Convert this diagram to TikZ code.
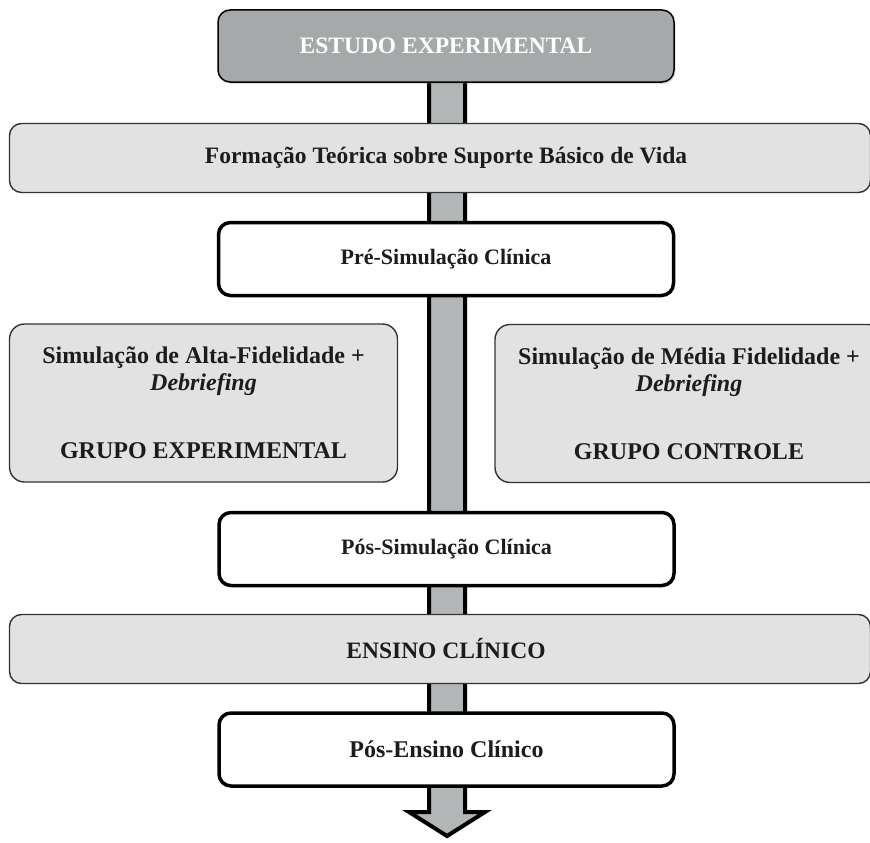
\documentclass[tikz,border=0pt]{standalone}
\usepackage{fontspec}
\setmainfont{Liberation Serif}
\usetikzlibrary{shadows}
\definecolor{titlegray}{HTML}{A6A9A9}
\definecolor{arrowgray}{HTML}{B3B6B6}
\definecolor{bandgray}{HTML}{E2E2E2}
\definecolor{edgegray}{HTML}{333333}
\definecolor{ink}{HTML}{1C1C1C}
\begin{document}
\begin{tikzpicture}[x=1pt,y=-1pt,
  titlebox/.style={draw=black, line width=1.5pt, fill=titlegray, rounded corners=12pt,
    minimum width=456pt, minimum height=72pt, inner sep=0pt, text=white,
    font=\bfseries\fontsize{23.5}{28}\selectfont,
    drop shadow={opacity=0.25, shadow xshift=1.5pt, shadow yshift=-2pt}},
  bandbox/.style={draw=edgegray, line width=1.4pt, fill=bandgray, rounded corners=12pt,
    minimum height=69pt, inner sep=0pt, text=ink,
    font=\bfseries\fontsize{23.5}{28}\selectfont},
  whitebox/.style={draw=black, line width=3.5pt, fill=white, rounded corners=12pt,
    minimum width=455pt, minimum height=73pt, inner sep=0pt, text=ink,
    font=\bfseries\fontsize{22}{26}\selectfont},
  sidebox/.style={draw=edgegray, line width=1.4pt, fill=bandgray, rounded corners=15pt,
    minimum width=388pt, minimum height=158pt, inner sep=0pt, text=ink, align=center,
    font=\bfseries\fontsize{24}{27}\selectfont},
  bigarrow/.style={draw=black, line width=4pt, fill=arrowgray, line join=miter}
]
\useasboundingbox (0,0) rectangle (870,843);

% main flow arrow
\coordinate (arrowtip) at (447,836);
\draw[bigarrow] (429,80) -- (429,812) -- (409,812) -- (arrowtip) -- (485,812) -- (465,812) -- (465,80) -- cycle;

\node[titlebox] (title) at (446,46) {ESTUDO EXPERIMENTAL};

\node[bandbox, minimum width=861pt] (form) at (440,158)
  {\hspace*{12pt}Formação Teórica sobre Suporte Básico de Vida};

\node[whitebox] (pre) at (446,259) {Pré-Simulação Clínica};

\node[sidebox] (alta) at (203.5,403)
  {Simulação de Alta-Fidelidade +\\ \textit{Debriefing}\\[41pt] GRUPO EXPERIMENTAL};
\node[sidebox] (media) at (689,403.5)
  {Simulação de Média Fidelidade +\\ \textit{Debriefing}\\[41pt] GRUPO CONTROLE};

\node[whitebox] (possim) at (446.5,549) {Pós-Simulação Clínica};

\node[bandbox, minimum width=861pt] (ensino) at (440,649) {\hspace*{12pt}ENSINO CLÍNICO};

\node[whitebox, font=\bfseries\fontsize{24}{28}\selectfont] (posens) at (446.5,749.5) {Pós-Ensino Clínico};
\end{tikzpicture}
\end{document}
